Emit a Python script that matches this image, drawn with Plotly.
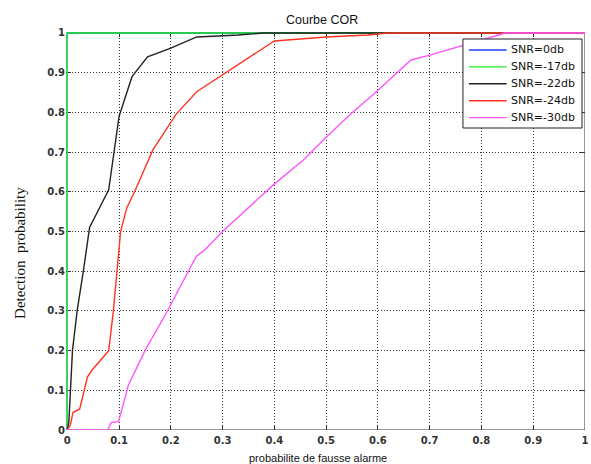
import plotly.graph_objects as go

# ROC curves: probability of false alarm vs detection probability
snr0_pfa = [0.0, 0.0, 1.0]
snr0_pd = [0.0, 1.0, 1.0]

snr17_pfa = [0.0, 0.0, 1.0]
snr17_pd = [0.0, 1.0, 1.0]

snr22_pfa = [0.0, 0.003, 0.01, 0.019, 0.031, 0.043, 0.08, 0.09, 0.1, 0.125, 0.155, 0.2, 0.25, 0.33, 0.38, 1.0]
snr22_pd = [0.0, 0.02, 0.2, 0.3, 0.4, 0.51, 0.605, 0.70, 0.79, 0.89, 0.94, 0.962, 0.99, 0.995, 1.0, 1.0]

snr24_pfa = [0.0, 0.006, 0.011, 0.024, 0.039, 0.048, 0.08, 0.089, 0.096, 0.103, 0.115, 0.13, 0.165, 0.21,
             0.25, 0.3, 0.4, 0.45, 0.5, 0.58, 0.62, 1.0]
snr24_pd = [0.0, 0.013, 0.044, 0.053, 0.134, 0.151, 0.2, 0.3, 0.4, 0.5, 0.56, 0.6, 0.705, 0.795,
            0.852, 0.895, 0.98, 0.985, 0.99, 0.995, 1.0, 1.0]

snr30_pfa = [0.0, 0.078, 0.085, 0.099, 0.118, 0.15, 0.191, 0.249, 0.265, 0.3, 0.4, 0.456, 0.498, 0.549,
             0.59, 0.638, 0.664, 0.702, 0.766, 0.814, 0.846, 1.0]
snr30_pd = [0.0, 0.0, 0.019, 0.021, 0.113, 0.2, 0.294, 0.437, 0.453, 0.5, 0.62, 0.68, 0.735, 0.798,
            0.844, 0.902, 0.932, 0.945, 0.97, 0.987, 1.0, 1.0]

series_names = ["SNR=0db", "SNR=-17db", "SNR=-22db", "SNR=-24db", "SNR=-30db"]
series_colors = ["#1f3fff", "#22ee22", "#222222", "#ff3322", "#ff55ff"]
series_x = [snr0_pfa, snr17_pfa, snr22_pfa, snr24_pfa, snr30_pfa]
series_y = [snr0_pd, snr17_pd, snr22_pd, snr24_pd, snr30_pd]

ticks = [0, 0.1, 0.2, 0.3, 0.4, 0.5, 0.6, 0.7, 0.8, 0.9, 1]
tick_text = ["0", "0.1", "0.2", "0.3", "0.4", "0.5", "0.6", "0.7", "0.8", "0.9", "1"]

W, H = 591, 464
ML, MR, MT, MB = 66, 2, 32, 34
PW, PH = W - ML - MR, H - MT - MB


def px_x(px):
    """Horizontal page pixel -> paper fraction."""
    return (px - ML) / PW


def px_y(py):
    """Vertical page pixel (from top) -> paper fraction."""
    return (H - MB - py) / PH


fig = go.Figure()
for name, xs, ys, color in zip(series_names, series_x, series_y, series_colors):
    fig.add_trace(go.Scatter(x=xs, y=ys, mode="lines", name=name, showlegend=False,
                             line=dict(color=color, width=1.4), cliponaxis=False))

axis_common = dict(
    tickvals=ticks, ticktext=tick_text,
    showgrid=True, gridcolor="#333333", griddash="1px,2px", gridwidth=1,
    showline=False, mirror="ticks",
    ticks="inside", ticklen=5, tickcolor="#333333",
    zeroline=False, fixedrange=True, layer="below traces",
    ticklabeloverflow="allow",
    tickfont=dict(family="DejaVu Sans", size=10, color="#333333", weight="bold"),
)

# frame of the plotting box, kept underneath the curves
frame_style = dict(type="line", layer="below", line=dict(color="#333333", width=1))
shapes = [
    dict(frame_style, xref="x", yref="y", x0=0, x1=1, y0=0, y1=0),
    dict(frame_style, xref="x", yref="y", x0=0, x1=1, y0=1, y1=1),
    dict(frame_style, xref="x", yref="y", x0=0, x1=0, y0=0, y1=1),
    dict(frame_style, xref="x", yref="y", x0=1, x1=1, y0=0, y1=1),
]

annotations = [
    dict(text="Courbe COR", xref="paper", yref="paper", x=0.494, y=1.0, yshift=12,
         xanchor="center", yanchor="middle", showarrow=False,
         font=dict(family="Liberation Sans", size=12.5, color="#111111")),
    dict(text="probabilite de fausse alarme", xref="paper", yref="paper", x=0.485, y=0.0,
         yshift=-28, xanchor="center", yanchor="middle", showarrow=False,
         font=dict(family="Liberation Sans", size=11, color="#111111")),
    dict(text="Detection  probability", xref="paper", yref="paper", x=0.0, xshift=-46,
         y=0.445, textangle=-90, xanchor="center", yanchor="middle", showarrow=False,
         font=dict(family="Liberation Serif", size=15, color="#111111")),
]

# boxed legend in the upper right corner
box_left, box_right, box_top, box_bottom = 466, 586, 39, 128
first_row, row_pitch = 50, 16.9
sample_left, sample_right, label_left = 472, 510, 512
shapes.append(dict(type="rect", xref="paper", yref="paper", layer="above",
                   x0=px_x(box_left), x1=px_x(box_right), y0=px_y(box_bottom), y1=px_y(box_top),
                   fillcolor="white", line=dict(color="#222222", width=1)))
for i, (name, color) in enumerate(zip(series_names, series_colors)):
    row = first_row + i * row_pitch
    shapes.append(dict(type="line", xref="paper", yref="paper", layer="above",
                       x0=px_x(sample_left), x1=px_x(sample_right), y0=px_y(row), y1=px_y(row),
                       line=dict(color=color, width=1.4)))
    annotations.append(dict(text=name, xref="paper", yref="paper", x=px_x(label_left), y=px_y(row),
                            xanchor="left", yanchor="middle", showarrow=False,
                            font=dict(family="DejaVu Sans", size=11, color="#111111")))

fig.update_layout(
    width=W, height=H,
    margin=dict(l=ML, r=MR, t=MT, b=MB),
    paper_bgcolor="white", plot_bgcolor="white",
    xaxis=dict(axis_common, range=[-0.0025, 1.0], ticklabelstandoff=3),
    yaxis=dict(axis_common, range=[0.0, 1.0025]),
    shapes=shapes,
    annotations=annotations,
    showlegend=False,
)

fig.write_html("out.html")
